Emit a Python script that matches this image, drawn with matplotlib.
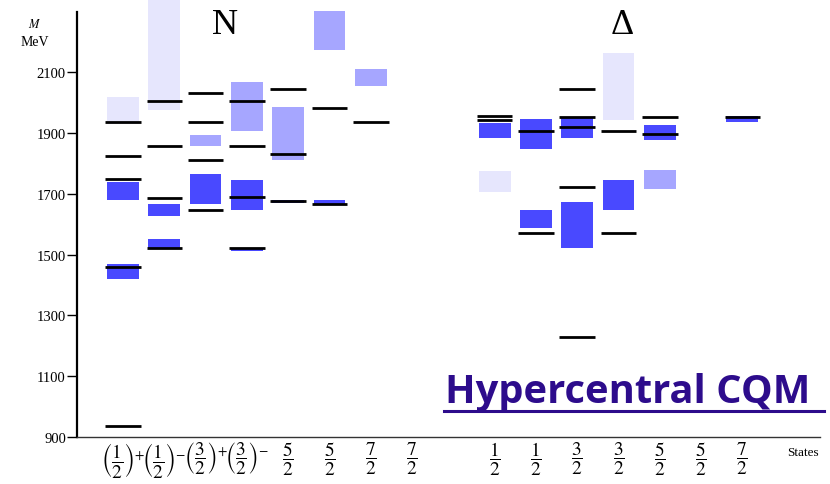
import matplotlib
matplotlib.use('Agg')
import matplotlib.pyplot as plt

plt.rcParams['font.family'] = ['Liberation Serif', 'DejaVu Serif']
plt.rcParams['mathtext.fontset'] = 'stix'

# column positions and J^P labels
n_pos = [1, 2, 3, 4, 5, 6, 7, 8]
n_labels = [r'$\left(\dfrac{1}{2}\right)^{+}$', r'$\left(\dfrac{1}{2}\right)^{-}$',
            r'$\left(\dfrac{3}{2}\right)^{+}$', r'$\left(\dfrac{3}{2}\right)^{-}$',
            r'$\dfrac{5}{2}$', r'$\dfrac{5}{2}$', r'$\dfrac{7}{2}$', r'$\dfrac{7}{2}$']
d_pos = [10, 11, 12, 13, 14, 15, 16]
d_labels = [r'$\dfrac{1}{2}$', r'$\dfrac{1}{2}$', r'$\dfrac{3}{2}$', r'$\dfrac{3}{2}$',
            r'$\dfrac{5}{2}$', r'$\dfrac{5}{2}$', r'$\dfrac{7}{2}$']

# model masses (MeV), one list per column
n_lines = [[935, 1460, 1750, 1826, 1935],
           [1521, 1685, 1859, 2007],
           [1646, 1812, 1937, 2031],
           [1521, 1690, 1859, 2007],
           [1678, 1830, 2044],
           [1666, 1982],
           [1937],
           []]
d_lines = [[1943, 1955],
           [1570, 1907],
           [1230, 1724, 1919, 1953, 2046],
           [1570, 1908],
           [1898, 1954],
           [],
           [1953]]

# experimental ranges (low, high, star class) per column
n_boxes = [[(1420, 1470, 4), (1680, 1740, 4), (1930, 2020, 1)],
           [(1521, 1551, 4), (1627, 1667, 4), (1975, 2400, 1)],
           [(1667, 1766, 4), (1859, 1894, 3)],
           [(1513, 1523, 4), (1647, 1747, 4), (1908, 2067, 3)],
           [(1671, 1680, 4), (1812, 1987, 3)],
           [(1666, 1679, 4), (2173, 2300, 3)],
           [(2055, 2110, 3)],
           []]
d_boxes = [[(1705, 1776, 1), (1883, 1932, 4)],
           [(1587, 1647, 4), (1848, 1946, 4)],
           [(1523, 1672, 4), (1883, 1951, 4)],
           [(1647, 1747, 4), (1944, 2164, 1)],
           [(1717, 1780, 3), (1877, 1927, 4)],
           [],
           [(1937, 1955, 4)]]

star_color = {4: '#4949ff', 3: '#a6a6ff', 1: '#e6e6fd'}

fig = plt.figure(figsize=(8.3, 4.85), dpi=100)
ax = fig.add_axes([77 / 830, 47 / 485, 743 / 830, 438 / 485])

for pos, lines, boxes in zip(n_pos + d_pos, n_lines + d_lines, n_boxes + d_boxes):
    for lo, hi, s in boxes:
        ax.bar(pos, hi - lo, bottom=lo, width=0.77, color=star_color[s],
               linewidth=0, zorder=1)
    if lines:
        ax.hlines(lines, pos - 0.43, pos + 0.43, colors='black', linewidth=2, zorder=2)

ax.set_xlim(-0.114, 17.88)
ax.set_ylim(900, 2341)

ax.spines['top'].set_visible(False)
ax.spines['right'].set_visible(False)
ax.spines['left'].set_bounds(900, 2298)
ax.spines['left'].set_linewidth(1.6)
ax.spines['bottom'].set_linewidth(1.0)
ax.spines['bottom'].set_color('#333333')

ax.set_yticks([900, 1100, 1300, 1500, 1700, 1900, 2100])
ax.tick_params(axis='y', direction='out', length=7, width=1, labelsize=10.5, pad=1)
ax.set_xticks(n_pos + d_pos)
ax.set_xticklabels(n_labels + d_labels, fontsize=14)
ax.tick_params(axis='x', length=0, pad=2)

fig.text(803 / 830, 1 - 453 / 485, 'States', fontsize=9.5, ha='center', va='center')
fig.text(35 / 830, 1 - 25 / 485, r'$M$', fontsize=9, ha='center', va='center')
fig.text(35 / 830, 1 - 42 / 485, 'MeV', fontsize=10, ha='center', va='center')

fig.text(225 / 830, 1 - 25 / 485, 'N', fontsize=26, ha='center', va='center')
fig.text(622 / 830, 1 - 26 / 485, '\u0394', fontsize=26, ha='center', va='center')

fig.text(445 / 830, 1 - 403 / 485, 'Hypercentral CQM', fontsize=28.7, fontweight='bold',
         family='Open Sans', color='#2d0c8c', ha='left', va='baseline')
fig.add_artist(plt.Line2D([444 / 830, 824 / 830], [1 - 412 / 485, 1 - 412 / 485],
                          color='#2d0c8c', linewidth=2.2))

fig.savefig('out.png', dpi=100)
